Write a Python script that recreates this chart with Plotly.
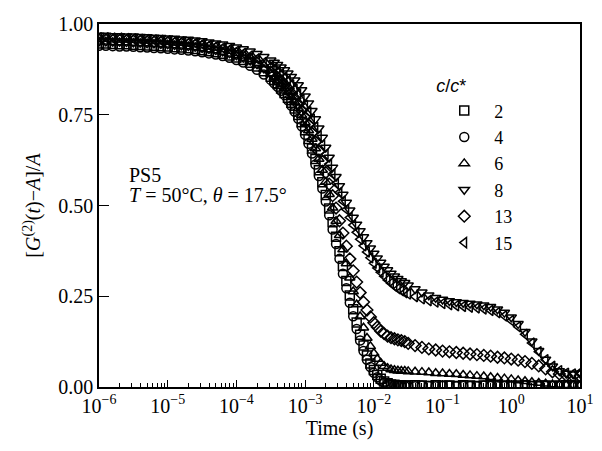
import plotly.graph_objects as go

# log10 of correlator lag time (s)
log10_time = [
    -6.0, -5.9, -5.8, -5.7, -5.6, -5.5, -5.4, -5.3, -5.2, -5.1, -5.0, -4.9, -4.8,
    -4.7, -4.6, -4.5, -4.4, -4.3, -4.2, -4.1, -4.0, -3.9, -3.8, -3.7, -3.6, -3.5,
    -3.45, -3.4, -3.35, -3.3, -3.25, -3.2, -3.15, -3.1, -3.05, -3.0, -2.95, -2.9,
    -2.85, -2.8, -2.75, -2.7, -2.65, -2.6, -2.55, -2.5, -2.45, -2.4, -2.35, -2.3,
    -2.25, -2.2, -2.15, -2.1, -2.05, -2.0, -1.95, -1.9, -1.85, -1.8, -1.75, -1.7,
    -1.65, -1.6, -1.55,
    -1.5, -1.4, -1.3, -1.2, -1.1, -1.0, -0.9, -0.8, -0.7, -0.6, -0.5, -0.4, -0.3,
    -0.2, -0.1, 0.0, 0.1, 0.2, 0.3, 0.4, 0.5, 0.6, 0.7, 0.8, 0.9, 1.0,
]
time_s = [10 ** v for v in log10_time]

x_tick_vals = [1e-6, 1e-5, 1e-4, 1e-3, 1e-2, 1e-1, 1e0, 1e1]
x_tick_text = ["10<sup>−6</sup>", "10<sup>−5</sup>", "10<sup>−4</sup>", "10<sup>−3</sup>",
               "10<sup>−2</sup>", "10<sup>−1</sup>", "10<sup>0</sup>", "10<sup>1</sup>"]
y_tick_vals = [0, 0.25, 0.5, 0.75, 1.0]
y_tick_text = ["0.00", "0.25", "0.50", "0.75", "1.00"]

labels = ["2", "4", "6", "8", "13", "15"]
symbols = ["square-open", "circle-open", "triangle-up-open",
           "triangle-down-open", "diamond-open", "triangle-left-open"]

g_c2 = [0.946, 0.946, 0.945, 0.944, 0.944, 0.943, 0.942, 0.941, 0.940, 0.939, 0.938, 0.936, 0.935,
        0.933, 0.931, 0.928, 0.925, 0.922, 0.918, 0.913, 0.908, 0.901, 0.893, 0.883, 0.870, 0.855,
        0.845, 0.835, 0.822, 0.810, 0.797, 0.783, 0.767, 0.749, 0.729, 0.707, 0.683, 0.657, 0.628,
        0.597, 0.564, 0.529, 0.492, 0.454, 0.414, 0.374, 0.333, 0.292, 0.252, 0.214, 0.178, 0.144,
        0.114, 0.087, 0.065, 0.047, 0.033, 0.023, 0.015, 0.010, 0.007, 0.006, 0.005, 0.004, 0.004,
        0.004, 0.005, 0.004, 0.003, 0.005, 0.004, 0.004, 0.003, 0.005, 0.004, 0.003, 0.004, 0.005,
        0.004, 0.003, 0.004, 0.004, 0.005, 0.003, 0.004, 0.004, 0.003, 0.004, 0.005, 0.004, 0.004]

g_c4 = [0.940, 0.940, 0.939, 0.938, 0.938, 0.937, 0.936, 0.935, 0.934, 0.933, 0.932, 0.930, 0.929,
        0.927, 0.925, 0.922, 0.919, 0.916, 0.912, 0.907, 0.901, 0.894, 0.885, 0.874, 0.861, 0.846,
        0.837, 0.827, 0.816, 0.804, 0.790, 0.775, 0.758, 0.739, 0.718, 0.695, 0.670, 0.643, 0.613,
        0.581, 0.547, 0.511, 0.473, 0.434, 0.394, 0.353, 0.312, 0.272, 0.232, 0.195, 0.160, 0.128,
        0.099, 0.075, 0.055, 0.039, 0.027, 0.018, 0.012, 0.008, 0.006, 0.005, 0.004, 0.004, 0.003,
        0.003, 0.002, 0.004, 0.003, 0.002, 0.003, 0.004, 0.002, 0.003, 0.003, 0.002, 0.004, 0.003,
        0.002, 0.003, 0.003, 0.002, 0.004, 0.003, 0.002, 0.003, 0.003, 0.002, 0.003, 0.004, 0.003]

g_c6 = [0.951, 0.951, 0.950, 0.949, 0.949, 0.948, 0.947, 0.946, 0.945, 0.944, 0.943, 0.941, 0.940,
        0.938, 0.936, 0.933, 0.930, 0.927, 0.923, 0.918, 0.913, 0.906, 0.898, 0.888, 0.876, 0.862,
        0.852, 0.844, 0.834, 0.823, 0.812, 0.798, 0.784, 0.768, 0.749, 0.729, 0.707, 0.683, 0.657,
        0.628, 0.598, 0.565, 0.531, 0.494, 0.457, 0.418, 0.379, 0.340, 0.301, 0.263, 0.227, 0.194,
        0.163, 0.135, 0.112, 0.093, 0.077, 0.066, 0.057, 0.052, 0.048, 0.046, 0.045, 0.044, 0.044,
        0.043, 0.042, 0.041, 0.040, 0.038, 0.037, 0.036, 0.035, 0.033, 0.032, 0.030, 0.029, 0.027,
        0.025, 0.023, 0.021, 0.018, 0.016, 0.013, 0.011, 0.009, 0.007, 0.006, 0.005, 0.005, 0.004]

g_c8 = [0.968, 0.968, 0.967, 0.967, 0.966, 0.966, 0.965, 0.964, 0.963, 0.962, 0.961, 0.960, 0.958,
        0.957, 0.955, 0.953, 0.950, 0.947, 0.944, 0.940, 0.936, 0.931, 0.925, 0.918, 0.910, 0.900,
        0.894, 0.888, 0.881, 0.873, 0.864, 0.855, 0.845, 0.832, 0.818, 0.801, 0.782, 0.761, 0.738,
        0.713, 0.687, 0.660, 0.632, 0.605, 0.579, 0.554, 0.530, 0.508, 0.487, 0.467, 0.448, 0.430,
        0.413, 0.397, 0.382, 0.368, 0.355, 0.343, 0.332, 0.322, 0.313, 0.305, 0.298, 0.292, 0.287,
        0.280, 0.270, 0.261, 0.253, 0.246, 0.241, 0.237, 0.234, 0.232, 0.230, 0.228, 0.225, 0.221,
        0.214, 0.205, 0.192, 0.174, 0.152, 0.126, 0.100, 0.076, 0.057, 0.044, 0.037, 0.035, 0.038]

g_c13 = [0.956, 0.956, 0.955, 0.955, 0.954, 0.953, 0.952, 0.951, 0.950, 0.949, 0.948, 0.946, 0.945,
         0.943, 0.941, 0.938, 0.935, 0.932, 0.928, 0.923, 0.918, 0.911, 0.903, 0.893, 0.881, 0.867,
         0.860, 0.852, 0.843, 0.833, 0.822, 0.809, 0.795, 0.779, 0.762, 0.743, 0.723, 0.700, 0.675,
         0.649, 0.621, 0.591, 0.559, 0.527, 0.493, 0.458, 0.424, 0.388, 0.353, 0.320, 0.289, 0.260,
         0.234, 0.212, 0.193, 0.177, 0.165, 0.154, 0.147, 0.140, 0.136, 0.133, 0.130, 0.128, 0.125,
         0.120, 0.114, 0.109, 0.105, 0.102, 0.099, 0.097, 0.095, 0.093, 0.091, 0.089, 0.087, 0.085,
         0.082, 0.080, 0.077, 0.074, 0.070, 0.065, 0.058, 0.050, 0.042, 0.036, 0.032, 0.030, 0.030]

g_c15 = [0.962, 0.962, 0.961, 0.961, 0.960, 0.959, 0.958, 0.957, 0.956, 0.955, 0.954, 0.952, 0.951,
         0.949, 0.947, 0.944, 0.941, 0.938, 0.934, 0.930, 0.925, 0.919, 0.912, 0.904, 0.894, 0.883,
         0.877, 0.870, 0.862, 0.853, 0.843, 0.832, 0.820, 0.807, 0.792, 0.776, 0.758, 0.738, 0.716,
         0.692, 0.667, 0.641, 0.614, 0.587, 0.561, 0.536, 0.512, 0.489, 0.467, 0.446, 0.426, 0.407,
         0.389, 0.372, 0.356, 0.341, 0.328, 0.316, 0.305, 0.295, 0.286, 0.278, 0.271, 0.265, 0.260,
         0.256, 0.249, 0.243, 0.238, 0.234, 0.230, 0.227, 0.224, 0.222, 0.220, 0.218, 0.215, 0.211,
         0.205, 0.196, 0.183, 0.166, 0.145, 0.121, 0.097, 0.075, 0.057, 0.045, 0.038, 0.036, 0.040]

series = [g_c2, g_c4, g_c6, g_c8, g_c13, g_c15]

FONT = "Liberation Serif, Times New Roman, serif"

fig = go.Figure()
for lab, sym, vals in zip(labels, symbols, series):
    fig.add_trace(go.Scatter(
        x=time_s, y=vals, mode="markers", name=lab,
        marker=dict(symbol=sym, size=9, color="black", line=dict(width=1.5, color="black")),
    ))

fig.update_layout(
    width=602, height=451,
    margin=dict(l=99, r=9, t=24, b=64),
    paper_bgcolor="white", plot_bgcolor="white",
    font=dict(family=FONT, size=20, color="black"),
    showlegend=True,
    legend=dict(
        x=0.697, y=0.876, xanchor="left", yanchor="top",
        bgcolor="rgba(0,0,0,0)", borderwidth=0,
        font=dict(family=FONT, size=18, color="black"),
        title=dict(text="<i>c</i>/<i>c</i>*", font=dict(family="Liberation Sans, Arial, sans-serif", size=18)),
        itemwidth=50, tracegroupgap=0,
    ),
    annotations=[
        dict(x=0.058, y=0.585, xref="paper", yref="paper", xanchor="left", yanchor="middle",
             text="PS5", showarrow=False, font=dict(family=FONT, size=20, color="black")),
        dict(x=0.058, y=0.53, xref="paper", yref="paper", xanchor="left", yanchor="middle",
             text="<i>T</i> = 50°C, <i>θ</i> = 17.5°", showarrow=False,
             font=dict(family=FONT, size=20, color="black")),
    ],
)

fig.update_xaxes(
    type="log", range=[-6, 1.0005], tickvals=x_tick_vals, ticktext=x_tick_text,
    ticklabeloverflow="allow",
    showline=True, linecolor="black", linewidth=1.5, mirror=True,
    ticks="inside", ticklen=7, tickwidth=1, tickcolor="black",
    minor=dict(ticks="inside", ticklen=4, tickwidth=1, tickcolor="black", showgrid=False, dtick="D1"),
    showgrid=False, zeroline=False,
    tickfont=dict(family=FONT, size=20, color="black"),
    title=dict(text="Time (s)", font=dict(family=FONT, size=20, color="black"), standoff=5),
)
fig.update_yaxes(
    range=[0, 1.0], tickvals=y_tick_vals, ticktext=y_tick_text,
    showline=True, linecolor="black", linewidth=1.5, mirror=True,
    ticks="inside", ticklen=10, tickwidth=1.2, tickcolor="black",
    showgrid=False, zeroline=False,
    tickfont=dict(family=FONT, size=20, color="black"),
    title=dict(text="[<i>G</i><sup>(2)</sup>(<i>t</i>)−<i>A</i>]/<i>A</i>",
               font=dict(family=FONT, size=20, color="black"), standoff=12),
)

fig.write_html("out.html")
